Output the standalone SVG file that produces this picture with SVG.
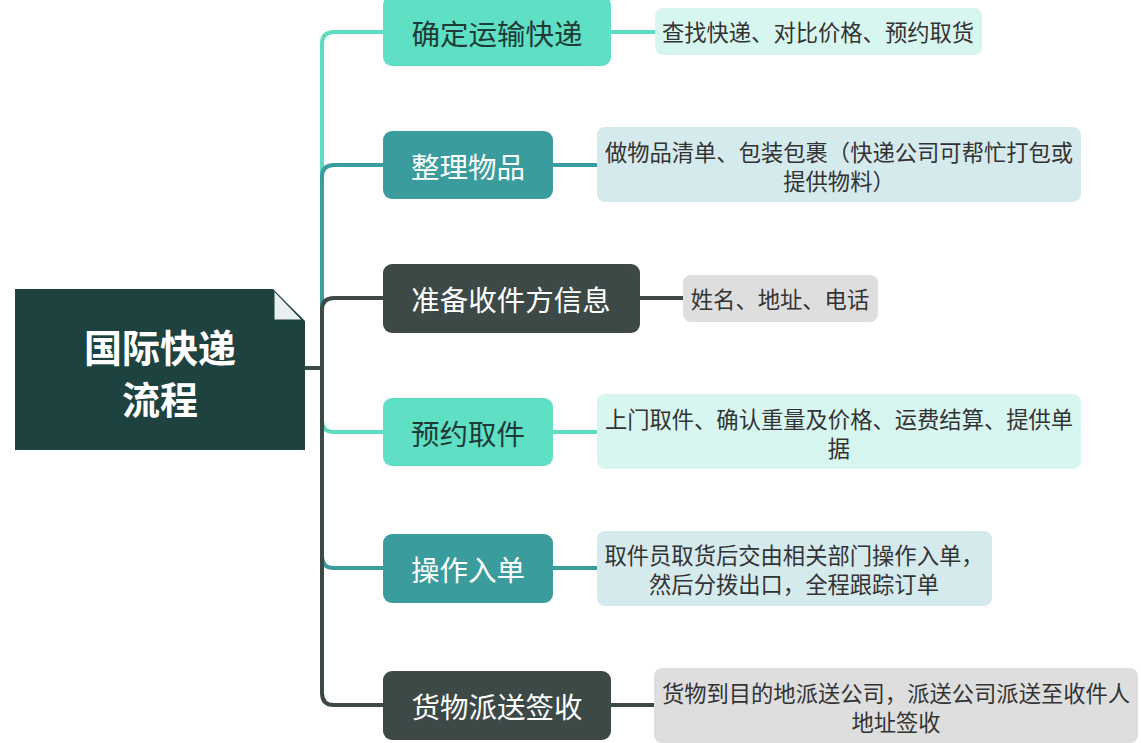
<svg xmlns="http://www.w3.org/2000/svg" width="1141" height="743" viewBox="0 0 1141 743">
<style>
.n{font-family:"Noto Sans CJK SC","Noto Sans",sans-serif;font-size:28.5px;text-anchor:middle;dominant-baseline:central}
.l{font-family:"Noto Sans CJK SC","Noto Sans",sans-serif;font-size:22.3px;text-anchor:middle;dominant-baseline:central;fill:#333}
.mint{fill:#5fe0c4}.teal{fill:#3a9c9c}.dark{fill:#3d4946}
.lm{fill:#d8f6f0}.lb{fill:#d5eaed}.lg{fill:#dedede}
.c{fill:none;stroke-width:4;stroke-linecap:round}
.cm{stroke:#5ddcbf}.ct{stroke:#3a9c9c}.cd{stroke:#3d4946}
</style>
<rect width="1141" height="743" fill="#ffffff"/>
<g id="connectors">
<path class="c cm" d="M305 368 H322 V44 Q322 32 334 32 H384"/>
<path class="c ct" d="M305 368 H322 V177 Q322 165 334 165 H384"/>
<path class="c cd" d="M305 368 H322 V310 Q322 298 334 298 H384"/>
<path class="c cm" d="M305 368 H322 V420 Q322 432 334 432 H384"/>
<path class="c ct" d="M305 368 H322 V556 Q322 568 334 568 H384"/>
<path class="c cd" d="M305 368 H322 V693 Q322 705 334 705 H384"/>
<path class="c cm" d="M611 32 H655"/>
<path class="c ct" d="M553 165 H597"/>
<path class="c cd" d="M640 298 H683"/>
<path class="c cm" d="M553 432 H597"/>
<path class="c ct" d="M553 568 H597"/>
<path class="c cd" d="M611 705 H654"/>
</g>
<g id="root">
<polygon points="15,289 273,289 305,321 305,450 15,450" fill="#1d4240"/>
<polygon points="274,291 274,320 302,320" fill="#e9eeee" stroke="#1d4240" stroke-width="1"/>
<text x="160" y="345" font-family="Noto Sans CJK SC,Noto Sans,sans-serif" font-size="38" font-weight="bold" fill="#ffffff" text-anchor="middle" dominant-baseline="central">国际快递</text>
<text x="160" y="397" font-family="Noto Sans CJK SC,Noto Sans,sans-serif" font-size="38" font-weight="bold" fill="#ffffff" text-anchor="middle" dominant-baseline="central">流程</text>
</g>
<g id="n1"><rect x="383" y="-4" width="228" height="70" rx="9" class="mint"/><text x="497" y="32" class="n" fill="#1f3b37">确定运输快递</text></g>
<g id="l1"><rect x="655" y="8" width="327" height="47" rx="8" class="lm"/><text x="818" y="31" class="l">查找快递、对比价格、预约取货</text></g>
<g id="n2"><rect x="383" y="131" width="170" height="68" rx="9" class="teal"/><text x="468" y="165" class="n" fill="#ffffff">整理物品</text></g>
<g id="l2"><rect x="597" y="127" width="484" height="75" rx="8" class="lb"/><text x="839" y="151" class="l">做物品清单、包装包裹（快递公司可帮忙打包或</text><text x="839" y="180" class="l">提供物料）</text></g>
<g id="n3"><rect x="383" y="264" width="257" height="69" rx="9" class="dark"/><text x="511" y="298" class="n" fill="#ffffff">准备收件方信息</text></g>
<g id="l3"><rect x="683" y="275" width="195" height="47" rx="8" class="lg"/><text x="780" y="298" class="l">姓名、地址、电话</text></g>
<g id="n4"><rect x="383" y="398" width="170" height="68" rx="9" class="mint"/><text x="468" y="432" class="n" fill="#1f3b37">预约取件</text></g>
<g id="l4"><rect x="597" y="394" width="484" height="75" rx="8" class="lm"/><text x="839" y="418" class="l">上门取件、确认重量及价格、运费结算、提供单</text><text x="839" y="447" class="l">据</text></g>
<g id="n5"><rect x="383" y="534" width="170" height="69" rx="9" class="teal"/><text x="468" y="568" class="n" fill="#ffffff">操作入单</text></g>
<g id="l5"><rect x="597" y="531" width="395" height="75" rx="8" class="lb"/><text x="794" y="554" class="l">取件员取货后交由相关部门操作入单，</text><text x="794" y="583" class="l">然后分拨出口，全程跟踪订单</text></g>
<g id="n6"><rect x="383" y="671" width="228" height="69" rx="9" class="dark"/><text x="497" y="705" class="n" fill="#ffffff">货物派送签收</text></g>
<g id="l6"><rect x="654" y="668" width="484" height="75" rx="8" class="lg"/><text x="896" y="692" class="l">货物到目的地派送公司，派送公司派送至收件人</text><text x="896" y="721" class="l">地址签收</text></g>
</svg>
